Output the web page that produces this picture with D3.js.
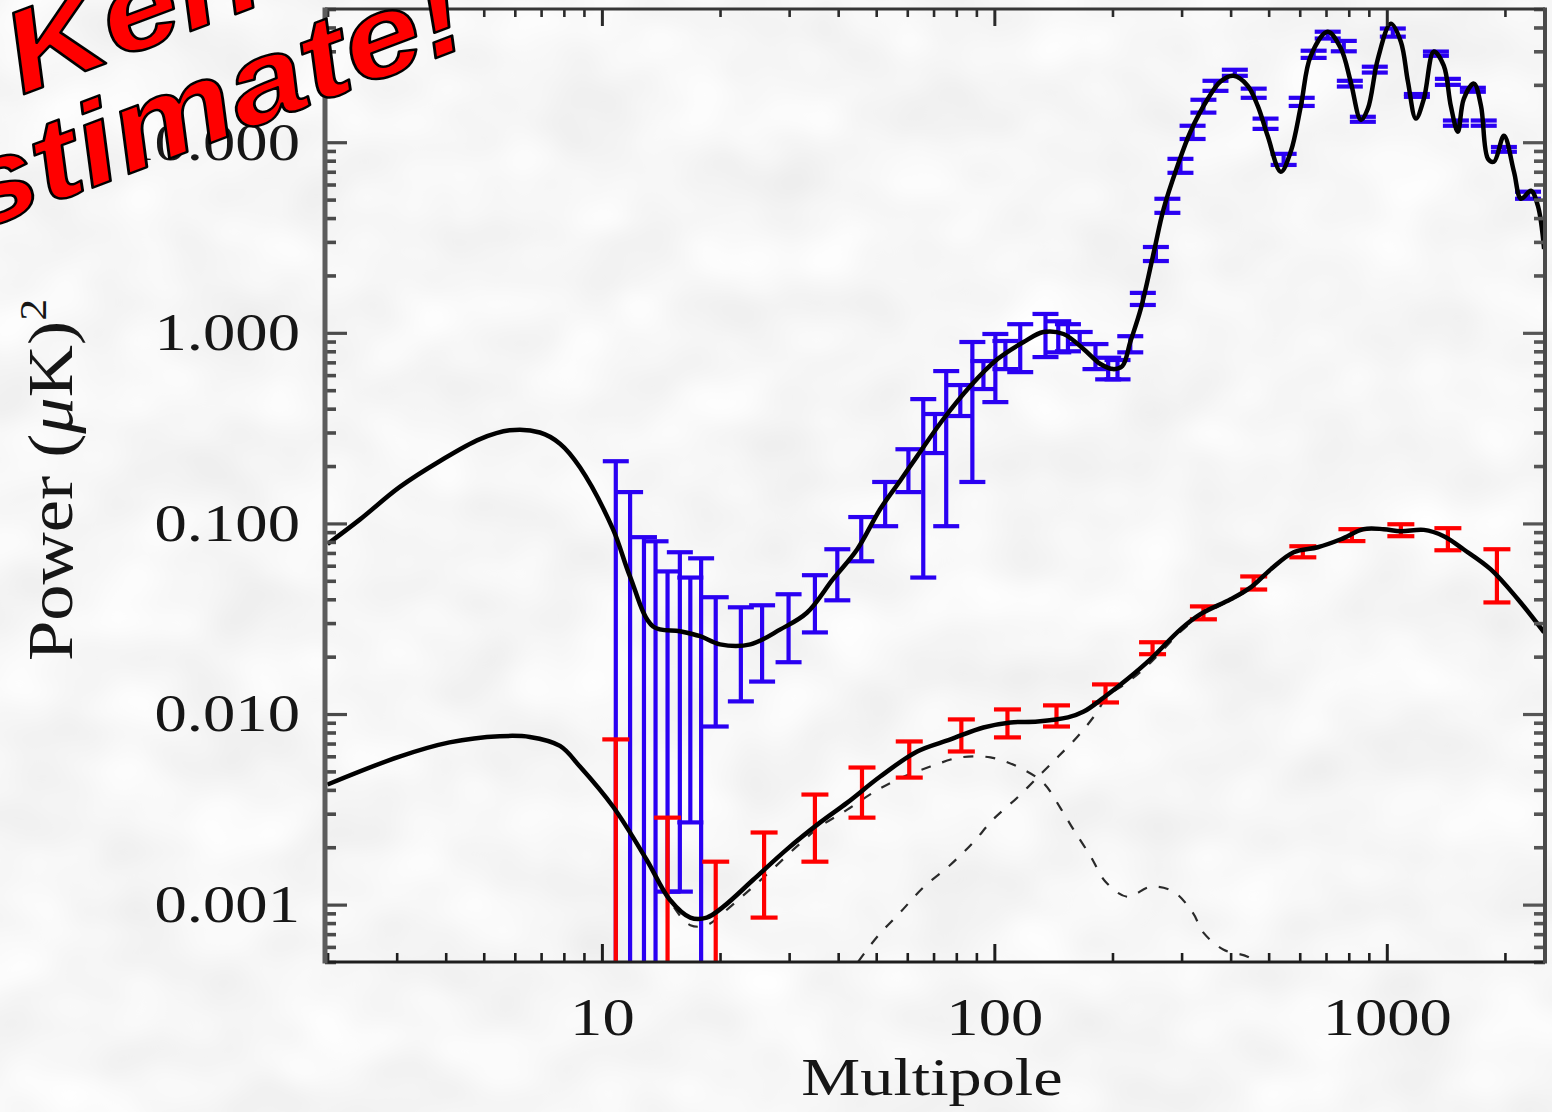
<!DOCTYPE html>
<html>
<head>
<meta charset="utf-8">
<title>Polarization power spectra</title>
<script src="https://cdn.jsdelivr.net/npm/d3@7/dist/d3.min.js"></script>
<style>
  html, body { margin: 0; padding: 0; background: #ebebeb; overflow: hidden; }
  svg { display: block; }
</style>
</head>
<body>
<svg id="chart" width="1552" height="1112"></svg>
<script>
// ---- Data -------------------------------------------------------------
// E-mode model spectrum: [multipole, power (uK)^2]
const eeModel = [
  [2, 0.078], [2.42, 0.105], [3.05, 0.155], [3.86, 0.212], [4.89, 0.277],
  [5.82, 0.308], [6.95, 0.300], [7.82, 0.262], [8.79, 0.197], [10.67, 0.0933],
  [11.79, 0.0528], [13.5, 0.0288], [15.8, 0.0272], [17.8, 0.0256], [20, 0.0232],
  [23.9, 0.0232], [28.5, 0.0278], [33.3, 0.034], [38.8, 0.051], [44.7, 0.073],
  [51.2, 0.119], [57.5, 0.167], [63.6, 0.2255], [74.1, 0.352], [86.9, 0.526],
  [101.9, 0.728], [118.7, 0.895], [133.4, 1.01], [150, 0.986], [168.7, 0.823],
  [186.4, 0.686], [201, 0.645], [212, 0.67], [222, 0.895], [236, 1.33],
  [255, 2.66], [270, 4.47], [293, 7.52], [316, 11.35], [350, 16.9], [377, 20.8],
  [407, 22.3], [442, 19.8], [469, 15.5], [497, 10.8], [537, 7.0], [569, 8.9],
  [604, 15.5], [640, 28.4], [707, 38.0], [764, 31.0], [809, 20.8], [859, 13.1],
  [895, 15.0], [949, 27.4], [1024, 41.9], [1086, 33.7], [1132, 20.8], [1186, 13.3],
  [1243, 16.9], [1318, 29.9], [1397, 25.2], [1456, 15.5], [1517, 11.35], [1571, 16.9],
  [1667, 20.3], [1738, 15.5], [1811, 8.18], [1876, 7.9], [1988, 10.8], [2109, 7.0],
  [2198, 5.05], [2330, 5.56], [2427, 4.63], [2517, 2.75]
];

// B-mode model, total (tensor + lensing)
const bbModel = [
  [2, 0.00427], [3.05, 0.00598], [4.09, 0.0071], [5.49, 0.00765], [6.55, 0.00758],
  [7.82, 0.0068], [8.79, 0.0053], [10.67, 0.00327], [13.0, 0.00172], [14.9, 0.00106],
  [16.8, 0.000855], [18.5, 0.000855], [20.4, 0.000976], [24.3, 0.00135], [29.6, 0.00195],
  [36.0, 0.0027], [42.2, 0.00343], [51.2, 0.0047], [63.6, 0.00636], [77.3, 0.00736],
  [93.8, 0.0085], [110, 0.00903], [129, 0.00914], [154, 0.0096], [169, 0.0103],
  [190, 0.0122], [218, 0.0152], [250, 0.0194], [298, 0.0278], [335, 0.0334],
  [400, 0.04], [450, 0.0462], [506, 0.0574], [579, 0.0706], [667, 0.075],
  [764, 0.0826], [873, 0.0933], [982, 0.0933], [1086, 0.091], [1243, 0.0925],
  [1397, 0.0857], [1571, 0.073], [1841, 0.0574], [2158, 0.04], [2517, 0.0268]
];

// B-mode from primordial tensors
const bbTensor = [
  [2, 0.00425], [3.05, 0.00595], [4.09, 0.00707], [5.49, 0.00762], [6.55, 0.00755],
  [7.82, 0.00678], [8.79, 0.00528], [10.67, 0.00325], [13.0, 0.0017], [14.9, 0.00104],
  [16.8, 0.00078], [18.5, 0.00078], [20.4, 0.000908], [23.4, 0.00116], [26.8, 0.00149],
  [31.4, 0.00202], [36.0, 0.00257], [42.2, 0.00315], [49.1, 0.00387], [56.6, 0.00453],
  [68.7, 0.0053], [81.9, 0.00592], [97.7, 0.00592], [114.5, 0.0053], [133, 0.00437],
  [147, 0.00324], [159, 0.00248], [176, 0.00179], [192, 0.00132], [218, 0.0011],
  [250, 0.00124], [286, 0.00117], [320, 0.00091], [341, 0.000713], [384, 0.00058],
  [442, 0.000533], [470, 0.00048]
];

// B-mode from gravitational lensing of E-modes
const bbLensing = [
  [45, 0.000502], [50.3, 0.000679], [57.5, 0.000908], [65.9, 0.00123], [77.3, 0.00162],
  [88.3, 0.00212], [99.3, 0.0028], [114.5, 0.00365], [132.5, 0.00493], [145.5, 0.00598],
  [163, 0.00763], [181, 0.00995], [194, 0.0124], [218, 0.0146], [250, 0.0186],
  [298, 0.027], [335, 0.0328], [400, 0.0395], [450, 0.0457], [506, 0.0569],
  [579, 0.0701], [667, 0.0745], [764, 0.0821], [873, 0.0928], [982, 0.0928],
  [1086, 0.0905], [1243, 0.092], [1397, 0.0852], [1571, 0.0725], [1841, 0.057],
  [2158, 0.0398], [2517, 0.0267]
];

// E-mode band powers: [multipole, lower, upper]; lower 0 = consistent with zero
const eeBands = [
  [10.85, 0, 0.212], [11.8, 0, 0.146], [12.8, 0, 0.0847], [13.7, 0, 0.0806],
  [14.7, 0.00117, 0.056], [15.8, 0.00117, 0.0706], [16.8, 0.0027, 0.052], [17.9, 0, 0.0656],
  [19.5, 0.0086, 0.041], [22.6, 0.01165, 0.0363], [25.6, 0.0148, 0.0372], [29.9, 0.0187, 0.0425],
  [34.9, 0.0268, 0.0535], [39.8, 0.0395, 0.0732], [45.8, 0.0633, 0.108], [52.7, 0.0967, 0.165],
  [60.4, 0.146, 0.245], [65.9, 0.052, 0.449], [70.6, 0.234, 0.375], [75.4, 0.0967, 0.63],
  [81.9, 0.366, 0.532], [87.9, 0.165, 0.895], [93.8, 0.507, 0.711], [100.6, 0.433, 0.986],
  [106.7, 0.645, 0.906], [116.4, 0.622, 1.11], [135, 0.746, 1.256], [145.5, 0.79, 1.15],
  [154, 0.80, 1.11], [165, 0.873, 1.01], [181, 0.645, 0.873], [195, 0.57, 0.74],
  [206, 0.57, 0.72], [222, 0.79, 0.96], [239, 1.40, 1.62], [258, 2.38, 2.82],
  [276, 4.26, 5.05], [298, 6.91, 8.18], [320, 10.4, 12.2], [341, 14.3, 16.7],
  [366, 18.6, 21.0], [410, 22.3, 24.0], [458, 17.1, 19.1], [491, 11.75, 13.3],
  [546, 7.6, 8.69], [607, 15.5, 17.1], [651, 27.7, 30.2], [707, 35, 38],
  [777, 30, 34], [805, 19.6, 21.0], [869, 12.8, 13.6], [932, 23.2, 24.9],
  [1036, 35.8, 39.5], [1193, 17.3, 17.9], [1334, 28.4, 29.9], [1431, 20.0, 21.5],
  [1500, 12.2, 13.0], [1657, 18.4, 19.3], [1766, 12.2, 13.0], [1988, 8.91, 9.44],
  [2290, 5.05, 5.5]
];

// B-mode band powers: [multipole, lower, upper]
const bbBands = [
  [10.85, 0, 0.00736], [14.7, 0, 0.00286], [19.5, 0, 0.00168], [25.9, 0.000855, 0.00239],
  [34.9, 0.00168, 0.00378], [46, 0.00286, 0.00524], [60.7, 0.00464, 0.00718],
  [82.4, 0.00636, 0.00937], [108, 0.00754, 0.01057], [144, 0.0086, 0.0111],
  [192, 0.0115, 0.0143], [253, 0.0206, 0.0238], [341, 0.0314, 0.0367],
  [458, 0.045, 0.0527], [611, 0.0664, 0.0759], [815, 0.0808, 0.0933],
  [1086, 0.0857, 0.099], [1431, 0.0723, 0.0944], [1908, 0.0385, 0.0732]
];

const xMajorTicks = [10, 100, 1000];
const xTickLabels = ["10", "100", "1000"];
const yMajorTicks = [0.001, 0.01, 0.1, 1, 10];
const yTickLabels = ["0.001", "0.010", "0.100", "1.000", "10.000"];
const xTitle = "Multipole";
const bannerLines = ["Ken", "Estimate!"];

// ---- Layout -----------------------------------------------------------
const W = 1552, H = 1112;
const frame = { left: 325, right: 1545, top: 9, bottom: 962 };
const serif = "'Liberation Serif', 'Times New Roman', serif";
const textStretch = 1.22;

const svg = d3.select("#chart");
const defs = svg.append("defs");

// soft mottled paper background
const mottle = defs.append("filter").attr("id", "mottle")
  .attr("x", 0).attr("y", 0).attr("width", "100%").attr("height", "100%");
mottle.append("feTurbulence").attr("type", "fractalNoise")
  .attr("baseFrequency", "0.011 0.014").attr("numOctaves", 2).attr("seed", 11);
mottle.append("feColorMatrix").attr("type", "matrix")
  .attr("values", "0.19 0 0 0 0.83  0.19 0 0 0 0.83  0.19 0 0 0 0.83  0 0 0 0 1");

svg.append("rect").attr("width", W).attr("height", H).attr("fill", "#ebebeb");
svg.append("rect").attr("width", W).attr("height", H).attr("filter", "url(#mottle)");

defs.append("clipPath").attr("id", "plotClip").append("rect")
  .attr("x", frame.left).attr("y", frame.top)
  .attr("width", frame.right - frame.left).attr("height", frame.bottom - frame.top);

const x = d3.scaleLog().domain([1.97, 2530]).range([frame.left, frame.right]);
const y = d3.scaleLog().domain([0.0005, 50]).range([frame.bottom, frame.top]);

const isPow10 = v => Math.abs(Math.log10(v) - Math.round(Math.log10(v))) < 1e-9;
const xMinor = x.ticks().filter(v => !isPow10(v));
const yMinor = y.ticks().filter(v => !isPow10(v));

// ---- Plot contents ----------------------------------------------------
const plot = svg.append("g").attr("clip-path", "url(#plotClip)");

const line = d3.line()
  .x(d => x(d[0])).y(d => y(d[1]))
  .curve(d3.curveCatmullRom.alpha(0.5));

// dashed components of the B-mode model
plot.selectAll("path.component").data([bbTensor, bbLensing]).join("path")
  .attr("class", "component")
  .attr("d", line)
  .attr("fill", "none").attr("stroke", "#2a2a2a")
  .attr("stroke-width", 2.2).attr("stroke-dasharray", "10 12");

function drawBands(data, color, capW, cls) {
  const below = frame.bottom + 20;
  const g = plot.append("g").attr("class", cls)
    .attr("stroke", color).attr("stroke-width", 4.2).attr("fill", "none");
  const bar = g.selectAll("g").data(data).join("g");
  bar.append("line")
    .attr("x1", d => x(d[0])).attr("x2", d => x(d[0]))
    .attr("y1", d => y(d[2]))
    .attr("y2", d => d[1] > 0 ? y(d[1]) : below);
  bar.append("line")
    .attr("x1", d => x(d[0]) - capW / 2).attr("x2", d => x(d[0]) + capW / 2)
    .attr("y1", d => y(d[2])).attr("y2", d => y(d[2]));
  bar.filter(d => d[1] > 0).append("line")
    .attr("x1", d => x(d[0]) - capW / 2).attr("x2", d => x(d[0]) + capW / 2)
    .attr("y1", d => y(d[1])).attr("y2", d => y(d[1]));
}

drawBands(eeBands, "#2a00f2", 26, "ee-bands");
drawBands(bbBands, "#ff0000", 27, "bb-bands");

// solid model curves on top
plot.selectAll("path.model").data([eeModel, bbModel]).join("path")
  .attr("class", "model")
  .attr("d", line)
  .attr("fill", "none").attr("stroke", "#000")
  .attr("stroke-width", 4.5).attr("stroke-linejoin", "round");

// ---- Frame and ticks --------------------------------------------------
const axes = svg.append("g").attr("class", "axes");

function tickAxis(gen, transform, values, size, color, width, fmt, pad) {
  const g = axes.append("g").attr("transform", transform)
    .call(gen.tickValues(values).tickSize(size).tickPadding(pad || 3)
      .tickFormat(fmt || (() => "")));
  g.select(".domain").remove();
  g.selectAll(".tick line").attr("stroke", color).attr("stroke-width", width);
  return g;
}

// bottom
const xAxisG = tickAxis(d3.axisBottom(x), `translate(0,${frame.bottom})`, xMajorTicks, -18, "#1e1e1e", 3,
  d => xTickLabels[xMajorTicks.indexOf(d)], 35);
tickAxis(d3.axisBottom(x), `translate(0,${frame.bottom})`, xMinor, -9, "#1e1e1e", 2.6);
// top
tickAxis(d3.axisTop(x), `translate(0,${frame.top})`, xMajorTicks, -17, "#2a2a2a", 3);
tickAxis(d3.axisTop(x), `translate(0,${frame.top})`, xMinor, -8, "#2a2a2a", 2.6);
// left
const yAxisG = tickAxis(d3.axisLeft(y), `translate(${frame.left},0)`, yMajorTicks, -22, "#4a4a4a", 3.2,
  d => yTickLabels[yMajorTicks.indexOf(d)], 25);
tickAxis(d3.axisLeft(y), `translate(${frame.left},0)`, yMinor, -11, "#4a4a4a", 3.6);
// right
tickAxis(d3.axisRight(y), `translate(${frame.right},0)`, yMajorTicks, -22, "#555", 3.2);
tickAxis(d3.axisRight(y), `translate(${frame.right},0)`, yMinor, -11, "#555", 3.6);

// tick label styling (wide serif lettering)
xAxisG.selectAll(".tick text")
  .attr("font-family", serif).attr("font-size", 53).attr("fill", "#161616")
  .attr("transform", `scale(${textStretch},1)`);
yAxisG.selectAll(".tick text")
  .attr("font-family", serif).attr("font-size", 53).attr("fill", "#161616")
  .attr("x", -25 / textStretch)
  .attr("transform", `scale(${textStretch},1)`);

// frame lines
axes.append("line").attr("x1", frame.left).attr("x2", frame.right)
  .attr("y1", frame.top).attr("y2", frame.top).attr("stroke", "#363636").attr("stroke-width", 3);
axes.append("line").attr("x1", frame.left).attr("x2", frame.right)
  .attr("y1", frame.bottom).attr("y2", frame.bottom).attr("stroke", "#1e1e1e").attr("stroke-width", 3);
axes.append("line").attr("x1", frame.left).attr("x2", frame.left)
  .attr("y1", frame.top - 1.5).attr("y2", frame.bottom + 1.5).attr("stroke", "#5c5c5c").attr("stroke-width", 5);
axes.append("line").attr("x1", frame.right).attr("x2", frame.right)
  .attr("y1", frame.top - 1.5).attr("y2", frame.bottom + 1.5).attr("stroke", "#4a4a4a").attr("stroke-width", 4);

// axis titles
svg.append("text")
  .attr("transform", `translate(932,1095) scale(1.25,1)`)
  .attr("text-anchor", "middle")
  .attr("font-family", serif).attr("font-size", 53).attr("fill", "#161616")
  .text(xTitle);

const yTitle = svg.append("text")
  .attr("transform", "translate(72,480) rotate(-90) scale(1.15,1)")
  .attr("text-anchor", "middle")
  .attr("font-family", serif).attr("font-size", 63).attr("fill", "#161616");
yTitle.append("tspan").text("Power (");
yTitle.append("tspan").attr("font-style", "italic").text("\u03bc");
yTitle.append("tspan").text("K)");
yTitle.append("tspan").attr("font-size", 38).attr("dy", -26).text("2");

// ---- Banner -----------------------------------------------------------
const banner = svg.append("g")
  .attr("font-family", "'Liberation Sans', Arial, sans-serif")
  .attr("font-weight", "bold").attr("font-style", "italic")
  .attr("font-size", 116)
  .attr("fill", "#ff0000").attr("stroke", "#000").attr("stroke-width", 2.4)
  .attr("stroke-linejoin", "round");
const bannerPos = [[22, 95], [-112, 265]];
banner.selectAll("text").data(bannerLines).join("text")
  .attr("transform", (d, i) => `translate(${bannerPos[i][0]},${bannerPos[i][1]}) rotate(-20.7) scale(1.2,1)`)
  .text(d => d);
</script>
</body>
</html>
